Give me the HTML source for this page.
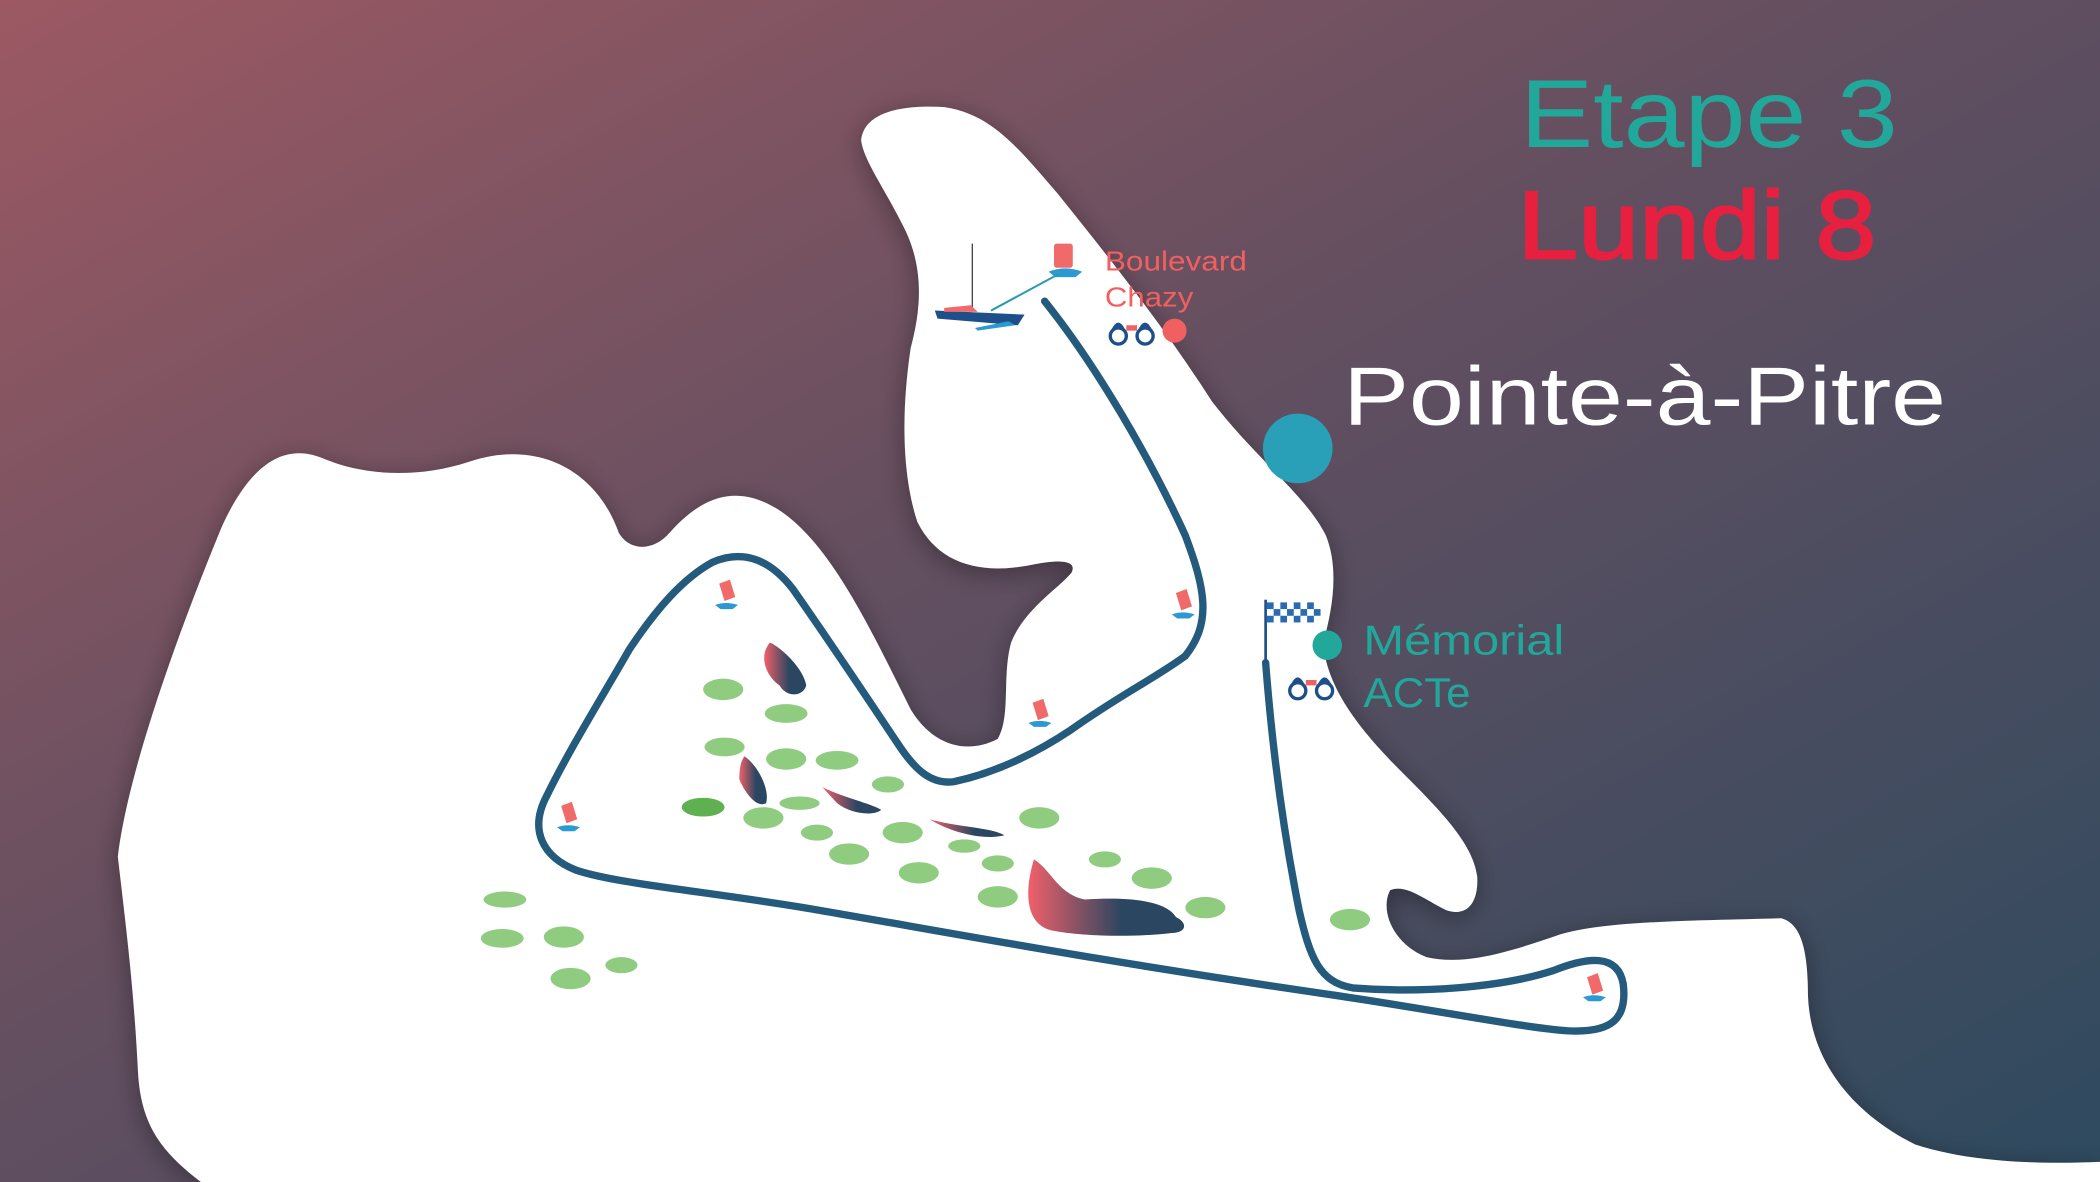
<!DOCTYPE html>
<html><head><meta charset="utf-8"><style>
html,body{margin:0;padding:0;width:2100px;height:1182px;overflow:hidden}
svg{display:block}
</style></head><body>
<svg width="2100" height="1182" viewBox="0 0 1568 883" preserveAspectRatio="none" xmlns="http://www.w3.org/2000/svg">
<defs>
<linearGradient id="bg" x1="0" y1="0" x2="1" y2="1">
<stop offset="0" stop-color="#9c5963"/>
<stop offset="0.45" stop-color="#634f60"/>
<stop offset="1" stop-color="#2e4a5f"/>
</linearGradient>
<linearGradient id="blob" x1="0" y1="0" x2="1" y2="0">
<stop offset="0" stop-color="#f0606a"/>
<stop offset="0.6" stop-color="#2a4660"/>
</linearGradient>
<filter id="sh" x="-10%" y="-10%" width="120%" height="120%">
<feGaussianBlur in="SourceAlpha" stdDeviation="10"/>
<feOffset dx="0" dy="4"/>
<feComponentTransfer><feFuncA type="linear" slope="0.35"/></feComponentTransfer>
<feMerge><feMergeNode/><feMergeNode in="SourceGraphic"/></feMerge>
</filter>
</defs>
<rect width="1568" height="883" fill="url(#bg)"/>
<path filter="url(#sh)" fill="#fff" d="M150,883 C120,860 105,840 103,800 C100,740 95,700 88,640 C95,580 130,480 165,395 C185,350 210,330 240,342 C270,355 310,358 350,345 C400,328 445,350 462,398 C470,412 488,412 500,398 C525,370 550,362 580,380 C620,405 650,470 680,530 C695,555 720,565 745,552 C755,535 748,505 755,480 C765,455 790,440 800,428 C805,418 790,418 770,422 C730,430 700,420 685,390 C672,350 674,300 680,260 C688,230 690,200 675,170 C660,140 645,120 643,105 C645,85 670,78 705,80 C740,85 760,110 790,145 C830,195 870,245 905,300 C940,345 975,370 990,400 C1000,425 995,455 988,480 C990,510 1010,540 1045,575 C1075,605 1100,630 1103,655 C1104,675 1095,685 1080,680 C1065,673 1050,660 1038,665 C1030,680 1040,705 1065,715 C1095,722 1130,710 1165,698 C1200,688 1260,688 1330,686 C1345,690 1350,710 1350,745 C1352,790 1380,830 1430,855 C1470,868 1520,870 1568,868 L1568,883 Z"/>
<path fill="none" stroke="#245a7c" stroke-width="5.5" stroke-linecap="round" stroke-linejoin="round" d="M780,225 C820,275 860,345 885,400 C900,440 905,465 885,490 C865,505 835,520 800,545 C770,565 740,578 712,584 C695,586 683,575 670,555 C650,525 620,480 592,440 C575,418 555,410 532,420 C510,432 490,455 470,485 C450,520 425,560 408,595 C395,620 405,640 430,650 C460,660 520,665 600,678 C700,695 820,718 1000,744 C1080,756 1140,768 1170,770 C1205,772 1215,760 1212,735 C1208,712 1185,715 1160,725 C1120,738 1060,742 1010,738 C985,734 978,715 970,680 C958,620 950,560 945,495"/>
<g fill="#8fcc80">
<ellipse cx="540" cy="515" rx="15" ry="8"/><ellipse cx="587" cy="533" rx="16" ry="7"/>
<ellipse cx="541" cy="558" rx="15" ry="7"/><ellipse cx="587" cy="567" rx="15" ry="8"/>
<ellipse cx="625" cy="568" rx="16" ry="7"/><ellipse cx="663" cy="586" rx="12" ry="6"/>
<ellipse cx="525" cy="603" rx="16" ry="7" fill="#5fb050"/><ellipse cx="570" cy="611" rx="15" ry="8"/>
<ellipse cx="597" cy="600" rx="15" ry="5"/><ellipse cx="610" cy="622" rx="12" ry="6"/>
<ellipse cx="634" cy="638" rx="15" ry="8"/><ellipse cx="674" cy="622" rx="15" ry="8"/>
<ellipse cx="686" cy="652" rx="15" ry="8"/><ellipse cx="720" cy="632" rx="12" ry="5"/>
<ellipse cx="745" cy="645" rx="12" ry="6"/><ellipse cx="776" cy="611" rx="15" ry="8"/>
<ellipse cx="745" cy="670" rx="15" ry="8"/><ellipse cx="825" cy="642" rx="12" ry="6"/>
<ellipse cx="860" cy="656" rx="15" ry="8"/><ellipse cx="900" cy="678" rx="15" ry="8"/>
<ellipse cx="1008" cy="687" rx="15" ry="8"/><ellipse cx="377" cy="672" rx="16" ry="6"/>
<ellipse cx="375" cy="701" rx="16" ry="7"/><ellipse cx="421" cy="700" rx="15" ry="8"/>
<ellipse cx="426" cy="731" rx="15" ry="8"/><ellipse cx="464" cy="721" rx="12" ry="6"/>
</g>
<g fill="url(#blob)">
<path d="M575,480 C585,485 600,500 602,512 C600,520 588,522 582,512 C572,505 566,490 575,480Z"/>
<path d="M556,565 C566,572 575,590 572,600 C565,604 556,592 552,582 C552,575 553,568 556,565Z"/>
<path d="M614,588 C630,596 650,600 658,605 C652,610 635,608 625,600 Z"/>
<path d="M694,612 C715,618 740,618 750,624 C735,628 710,622 694,612 Z"/>
<path d="M772,642 C785,650 790,668 810,672 C840,670 870,672 878,685 C888,690 885,697 875,697 C850,700 810,700 785,695 C765,690 765,665 772,642Z"/>
</g>
<g fill="#f06a6a">
<path d="M537,436 l8,-3 l4,13 l-8,3z"/><path d="M878,443 l8,-3 l4,13 l-8,3z"/>
<path d="M771,525 l8,-3 l4,13 l-8,3z"/><path d="M419,602 l8,-3 l4,13 l-8,3z"/>
<path d="M1185,730 l8,-3 l4,13 l-8,3z"/><rect x="787" y="182" width="14" height="18" rx="2"/>
</g>
<g fill="#2a9ad0">
<path d="M534,452 q8,-3 17,0 l-4,3 h-9z"/><path d="M875,459 q8,-3 17,0 l-4,3 h-9z"/>
<path d="M768,540 q8,-3 17,0 l-4,3 h-9z"/><path d="M416,618 q8,-3 17,0 l-4,3 h-9z"/>
<path d="M1182,745 q8,-3 17,0 l-4,3 h-9z"/><path d="M783,203 q12,-5 25,0 l-5,4 h-15z"/>
</g>
<line x1="726" y1="182" x2="726" y2="232" stroke="#445" stroke-width="1"/>
<line x1="740" y1="232" x2="790" y2="205" stroke="#2a9ab0" stroke-width="1.5"/>
<path d="M698,232 L765,235 L760,243 L700,238Z" fill="#1f4f8a"/>
<path d="M705,230 l20,-2 l5,5 l-25,0z" fill="#f06a6a"/>
<path d="M728,245 l25,-5 l5,3 l-28,4z" fill="#2a9ad0"/>
<g font-family="Liberation Sans, sans-serif">
<text x="1135" y="110" font-size="72" fill="#22a89a" textLength="282" lengthAdjust="spacingAndGlyphs">Etape 3</text>
<text x="1133" y="193" font-size="72" fill="#e8203f" stroke="#e8203f" stroke-width="1.5" textLength="268" lengthAdjust="spacingAndGlyphs">Lundi 8</text>
<text x="1003" y="317" font-size="62" fill="#fff" textLength="450" lengthAdjust="spacingAndGlyphs">Pointe-à-Pitre</text>
<text x="825" y="202" font-size="21" fill="#f06060" textLength="106" lengthAdjust="spacingAndGlyphs">Boulevard</text>
<text x="825" y="229" font-size="21" fill="#f06060" textLength="66" lengthAdjust="spacingAndGlyphs">Chazy</text>
<text x="1018" y="489" font-size="31" fill="#22a89a" textLength="150" lengthAdjust="spacingAndGlyphs">Mémorial</text>
<text x="1018" y="528" font-size="31" fill="#22a89a" textLength="80" lengthAdjust="spacingAndGlyphs">ACTe</text>
</g>
<circle cx="969" cy="335" r="26" fill="#2aa0b8"/>
<circle cx="877" cy="247" r="9" fill="#f06060"/>
<circle cx="991" cy="482" r="11" fill="#22a89a"/>
<g fill="#fff" stroke="#1f4f8a" stroke-width="2.5">
<circle cx="835" cy="251" r="6"/><circle cx="855" cy="251" r="6"/>
<circle cx="969" cy="516" r="6"/><circle cx="989" cy="516" r="6"/>
</g>
<path d="M830,246 q5,-10 10,0 M850,246 q5,-10 10,0 M964,511 q5,-10 10,0 M984,511 q5,-10 10,0" fill="#1f4f8a"/>
<rect x="841" y="243" width="8" height="4" fill="#f06060"/><rect x="975" y="508" width="8" height="4" fill="#f06060"/>
<line x1="945" y1="448" x2="945" y2="495" stroke="#1f4f8a" stroke-width="2"/>
<g fill="#2a6ab0">
<rect x="946" y="450" width="40" height="18" fill="#fff"/>
<rect x="946" y="450" width="5" height="5"/><rect x="956" y="450" width="5" height="5"/><rect x="966" y="450" width="5" height="5"/><rect x="976" y="450" width="5" height="5"/>
<rect x="951" y="455" width="5" height="5"/><rect x="961" y="455" width="5" height="5"/><rect x="971" y="455" width="5" height="5"/><rect x="981" y="455" width="5" height="5"/>
<rect x="946" y="460" width="5" height="5"/><rect x="956" y="460" width="5" height="5"/><rect x="966" y="460" width="5" height="5"/><rect x="976" y="460" width="5" height="5"/>
</g>
</svg>
</body></html>
